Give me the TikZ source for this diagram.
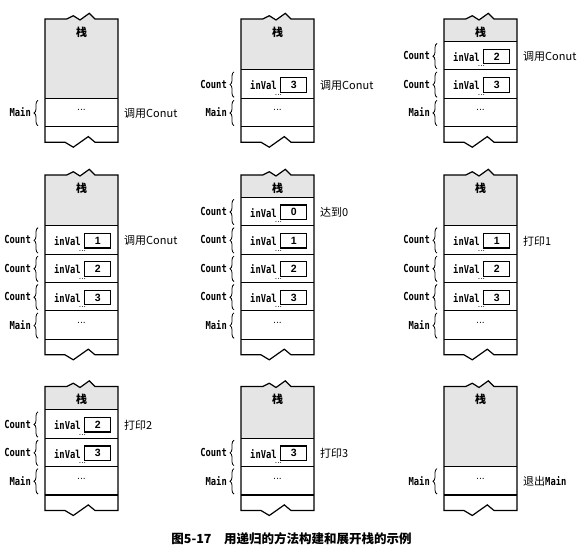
\documentclass[tikz,border=0pt]{standalone}
\usepackage{fontspec}
\setmainfont{Liberation Sans}
\newfontfamily\cjk{Noto Sans CJK SC}
\newfontfamily\monob{DejaVu Sans Mono}[FakeStretch=0.8]
\newfontfamily\dotsf{DejaVu Sans}
\usetikzlibrary{decorations.pathreplacing}
\tikzset{
  frame/.style={line width=1.2pt, line join=miter},
  rowline/.style={line width=1.1pt},
  graypart/.style={fill=black!10},
  lab/.style={font=\monob\bfseries\fontsize{11}{13}\selectfont, inner sep=0pt},
  valbox/.style={draw, line width=1.2pt, minimum width=26pt, minimum height=14.5pt, inner sep=0pt,
    font=\bfseries\fontsize{10.5}{12}\selectfont},
  bracestyle/.style={decorate, decoration={brace, amplitude=4pt}, line width=0.8pt},
  smalldots/.style={font=\dotsf\fontsize{7.5}{9}\selectfont, inner sep=0pt},
  maindots/.style={font=\dotsf\fontsize{9}{10}\selectfont, inner sep=0pt},
  stacklabel/.style={font=\cjk\bfseries\fontsize{11}{13}\selectfont, inner sep=0pt},
  rlab/.style={font=\cjk\fontsize{11}{13}\selectfont, inner sep=0pt},
  caption/.style={font=\cjk\bfseries\fontsize{12.5}{15}\selectfont, inner sep=0pt}
}
% #1 name, #2 left x, #3 top y, #4 bottom y of Main row, #5 number of Count rows, #6 note
\newcommand\stackpanel[6]{%
  \begin{scope}[shift={(#2,0)}]
    \pgfmathsetmacro\pT{#3}
    \pgfmathsetmacro\pM{#4}
    \pgfmathsetmacro\pB{#4+15.5}
    \pgfmathsetmacro\pG{#4-(#5+1)*28.4}
    \pgfmathtruncatemacro\pN{#5+1}
    \fill[white] (0,\pT) -- (21.7,\pT) -- (28.3,{\pT-3.3}) -- (35,{\pT+1}) -- (44.3,{\pT-5.7}) -- (50,\pT) -- (73,\pT)
      -- (73,\pB) -- (50,\pB) -- (43.3,{\pB-5.6}) -- (28.3,{\pB+5}) -- (20,\pB) -- (0,\pB) -- cycle;
    \fill[graypart] (0,\pT) -- (21.7,\pT) -- (28.3,{\pT-3.3}) -- (35,{\pT+1}) -- (44.3,{\pT-5.7}) -- (50,\pT) -- (73,\pT)
      -- (73,\pG) -- (0,\pG) -- cycle;
    \foreach \k in {0,...,\pN} {
      \draw[rowline] (0,{\pM-\k*28.4}) -- (73,{\pM-\k*28.4});
    }
    \draw[frame] (0,\pT) -- (21.7,\pT) -- (28.3,{\pT-3.3}) -- (35,{\pT+1}) -- (44.3,{\pT-5.7}) -- (50,\pT) -- (73,\pT)
      -- (73,\pB) -- (50,\pB) -- (43.3,{\pB-5.6}) -- (28.3,{\pB+5}) -- (20,\pB) -- (0,\pB) -- cycle;
    \node[stacklabel] (#1-stk) at (36.5,{\pT+13}) {栈};
    % Main row
    \draw[bracestyle] (-7,{\pM-1}) -- (-7,{\pM-26.4});
    \node[lab,anchor=east] (#1-main) at (-14,{\pM-14.2}) {Main};
    \node[maindots] (#1-mdots) at (36.5,{\pM-16.5}) {...};
    % Count rows
    \ifnum#5>0
      \foreach \i in {1,...,#5} {
        \pgfmathsetmacro\rt{\pM-(\i+1)*28.4}
        \pgfmathtruncatemacro\v{4-\i}
        \draw[bracestyle] (-7,{\rt+27.4}) -- (-7,{\rt+2});
        \node[lab,anchor=east] (#1-c\i) at (-14,{\rt+14.2}) {Count};
        \node[lab,anchor=west] (#1-iv\i) at (9,{\rt+15.5}) {inVal};
        \node[valbox] (#1-box\i) at (52.7,{\rt+15}) {\v};
        \node[smalldots] (#1-d\i) at (37.5,{\rt+25}) {...};
      }
    \fi
    \node[rlab,anchor=west] (#1-note) at (79,{\pM-(#5+0.5)*28.4+1}) {#6};
  \end{scope}
}
\begin{document}
\begin{tikzpicture}[x=1pt,y=-1pt]
  \useasboundingbox (0,0) rectangle (586,554);
  \stackpanel{p1}{45}{19}{126.7}{0}{调用Conut}
  \stackpanel{p2}{241}{19}{126.7}{1}{调用Conut}
  \stackpanel{p3}{444}{19}{126.7}{2}{调用Conut}
  \stackpanel{p4}{45}{175}{339.3}{3}{调用Conut}
  \stackpanel{p5}{241}{175}{339.3}{4}{达到0}
  \stackpanel{p6}{444}{175}{339.3}{3}{打印1}
  \stackpanel{p7}{45}{386.5}{495}{2}{打印2}
  \stackpanel{p8}{241}{386.5}{495}{1}{打印3}
  \stackpanel{p9}{444}{386.5}{495}{0}{退出{\monob\bfseries Main}}
  \node[caption] (cap) at (291.5,539) {图5-17\quad 用递归的方法构建和展开栈的示例};
\end{tikzpicture}
\end{document}
